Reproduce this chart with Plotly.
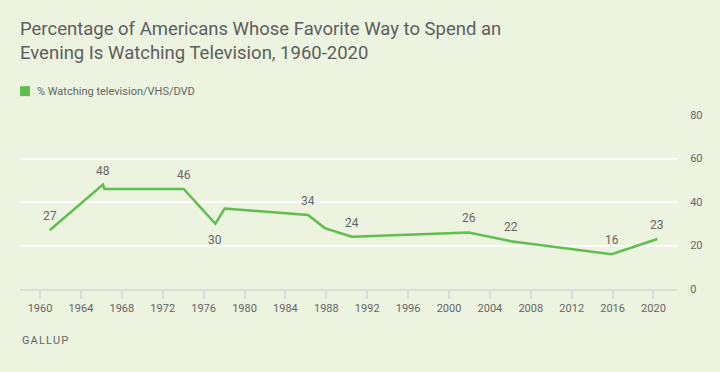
import plotly.graph_objects as go

# Data (decimal years of survey dates, percent)
years = [1960.94, 1966.15, 1966.29, 1974.05, 1977.15, 1978.06, 1986.21,
         1987.85, 1990.49, 2001.94, 2006.02, 2015.9, 2020.38]
values = [27, 48, 46, 46, 30, 37, 34, 28, 24, 26, 22, 16, 23]
# labels shown on the chart ("" = no label); position above/below
labels = ["27", "48", "", "46", "30", "", "34", "", "24", "26", "22", "16", "23"]
label_pos = ["above", "above", "", "above", "below", "", "above", "", "above",
             "above", "above", "above", "above"]

x_ticks = list(range(1960, 2021, 4))
y_ticks = [0, 20, 40, 60, 80]

series_name = "% Watching television/VHS/DVD"
title_text = ("Percentage of Americans Whose Favorite Way to Spend an<br>"
              "Evening Is Watching Television, 1960-2020")

BG = "#ecf3de"
GREEN = "#5fbe4e"
TXT = "#666666"
FONT = "Roboto"

fig = go.Figure()
fig.add_trace(go.Scatter(
    x=years, y=values, mode="lines",
    line=dict(color=GREEN, width=2.5),
    showlegend=False, hoverinfo="x+y",
))

for xv, yv, lab, pos in zip(years, values, labels, label_pos):
    if not lab:
        continue
    fig.add_annotation(
        x=xv, y=yv, text=lab, showarrow=False,
        yshift=14 if pos == "above" else -16,
        font=dict(family=FONT, size=12, color=TXT),
    )

# Legend (square + text)
fig.add_shape(type="rect", xref="paper", yref="paper",
              x0=0, x1=10 / 657, y0=(289.3 - 96) / 174.4, y1=(289.3 - 86) / 174.4,
              fillcolor=GREEN, line=dict(width=0))
fig.add_annotation(xref="paper", yref="paper", x=15 / 657, y=(289.3 - 91) / 174.4,
                   xanchor="left", yanchor="middle", showarrow=False,
                   text=series_name, font=dict(family=FONT, size=11, color=TXT))

# Source
fig.add_annotation(xref="paper", yref="paper", x=0, y=(289.3 - 341) / 174.4,
                   xanchor="left", yanchor="middle", showarrow=False,
                   text="G A L L U P".replace(" ", "\u200a"),
                   font=dict(family=FONT, size=11, color=TXT))

fig.update_layout(
    width=720, height=372,
    paper_bgcolor=BG, plot_bgcolor=BG,
    margin=dict(l=20, r=43, t=115, b=83),
    title=dict(text=title_text, x=20 / 720, xanchor="left",
               y=1 - 35 / 372, yanchor="top",
               font=dict(family=FONT, size=18.5, color="#5e5e5e")),
    font=dict(family=FONT, color=TXT, size=11),
    showlegend=False,
)

fig.update_xaxes(
    range=[1958.04, 2022.3],
    tickmode="array", tickvals=x_ticks, ticktext=[str(t) for t in x_ticks],
    showgrid=False, zeroline=False,
    showline=True, linecolor="#dcdcdc", linewidth=2,
    ticks="outside", ticklen=8, tickwidth=2, tickcolor="#dcdcdc",
    tickfont=dict(family=FONT, size=11, color=TXT),
)
fig.update_yaxes(
    range=[0, 80], side="right",
    tickmode="array", tickvals=y_ticks,
    showgrid=True, gridcolor="#ffffff", gridwidth=2,
    zeroline=False, showline=False,
    ticks="outside", ticklen=10, tickcolor="rgba(0,0,0,0)",
    tickfont=dict(family=FONT, size=11, color=TXT),
)

fig.write_html("out.html",
               config={"displayModeBar": False},
               post_script="document.body.style.margin='0';"
                           "document.body.style.background='" + BG + "';")
